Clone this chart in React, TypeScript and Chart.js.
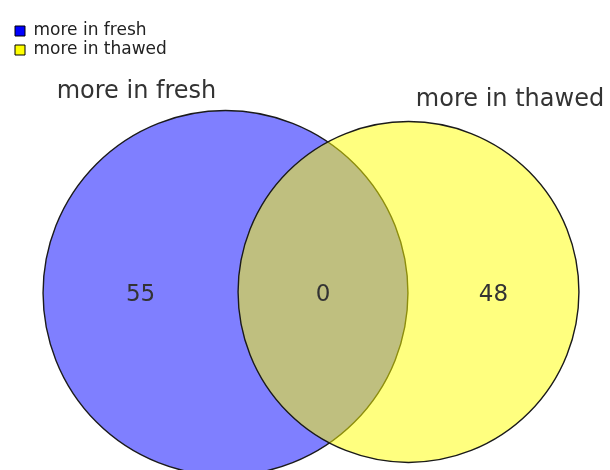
import React, { useEffect, useRef } from "react";
import { Chart, registerables } from "chart.js";

Chart.register(...registerables);

// ---- data ----
const setNames = ["more in fresh", "more in thawed"];
const onlyCounts = [55, 48]; // items only in each set
const sharedCount = 0; // items in both sets
const legendColors = ["#0000ff", "#ffff00"];
const fillColors = ["rgba(0,0,255,0.5)", "rgba(255,255,0,0.5)"];

// ---- layout (scale units = canvas pixels) ----
const centerX = [225.5, 408.5];
const centerY = [293, 292];
const radiusPerSqrtCount = 24.6;
const titleOffsetX = [-89, 101.5];
const titleGap = [12.5, 15.5];
const numberDy = 3;
const FONT = "'DejaVu Sans', Verdana, sans-serif";
const PAD_LEFT = 13;

const vennLabels = {
  id: "vennLabels",
  afterDatasetsDraw(chart: any) {
    const ctx = chart.ctx;
    const els = [0, 1].map((i) => chart.getDatasetMeta(i).data[0]);
    const c = els.map((e: any) => ({ x: e.x, y: e.y, r: e.options.radius }));
    const aLeft = c[0].x - c[0].r;
    const aRight = c[0].x + c[0].r;
    const bLeft = c[1].x - c[1].r;
    const bRight = c[1].x + c[1].r;
    const midY = (c[0].y + c[1].y) / 2 + numberDy;
    ctx.save();
    ctx.fillStyle = "#333";
    ctx.textAlign = "center";
    ctx.textBaseline = "middle";
    ctx.font = `23px ${FONT}`;
    ctx.fillText(String(onlyCounts[0]), (aLeft + bLeft) / 2, midY);
    ctx.fillText(String(sharedCount), (bLeft + aRight) / 2, midY);
    ctx.fillText(String(onlyCounts[1]), (aRight + bRight) / 2, midY);
    ctx.font = `24px ${FONT}`;
    ctx.textBaseline = "alphabetic";
    c.forEach((ci, i) => {
      ctx.fillText(setNames[i], ci.x + titleOffsetX[i], ci.y - ci.r - titleGap[i]);
    });
    ctx.restore();
  },
};

export default function App() {
  const ref = useRef<HTMLCanvasElement>(null);
  useEffect(() => {
    if (!ref.current) return;
    const totals = [onlyCounts[0] + sharedCount, onlyCounts[1] + sharedCount];
    const chart = new Chart(ref.current, {
      type: "bubble",
      data: {
        datasets: setNames.map((name, i) => ({
          label: name,
          data: [{ x: centerX[i], y: centerY[i], r: radiusPerSqrtCount * Math.sqrt(totals[i]) }],
          backgroundColor: fillColors[i],
          borderColor: "#1a1a1a",
          borderWidth: 1.4,
          hoverRadius: 0,
          order: i === 0 ? 2 : 1,
          clip: false,
        })),
      },
      options: {
        responsive: false,
        animation: false,
        events: [],
        layout: { autoPadding: false, padding: { left: PAD_LEFT, top: 0, right: 0, bottom: 0 } },
        scales: {
          x: { type: "linear", min: PAD_LEFT, max: 610, display: false },
          y: { type: "linear", min: 0, max: 470, reverse: true, display: false },
        },
        plugins: {
          tooltip: { enabled: false },
          legend: {
            position: "chartArea",
            align: "start",
            title: { display: true, text: "", font: { size: 10, lineHeight: 1 }, padding: { top: 10.5, bottom: 0 } },
            labels: {
              boxWidth: 10,
              boxHeight: 10,
              padding: 2,
              color: "#222",
              font: { family: FONT, size: 17 },
              generateLabels: () =>
                setNames.map((n, i) => ({
                  text: n,
                  fillStyle: legendColors[i],
                  strokeStyle: "#000",
                  fontColor: "#222",
                  lineWidth: 1,
                  hidden: false,
                  datasetIndex: i,
                })),
            },
          },
        },
      },
      plugins: [vennLabels],
    } as any);
    return () => chart.destroy();
  }, []);
  return (
    <div style={{ position: "absolute", left: 0, top: 0, width: 610, height: 470, background: "#fff" }}>
      <canvas ref={ref} width={610} height={470} />
    </div>
  );
}
